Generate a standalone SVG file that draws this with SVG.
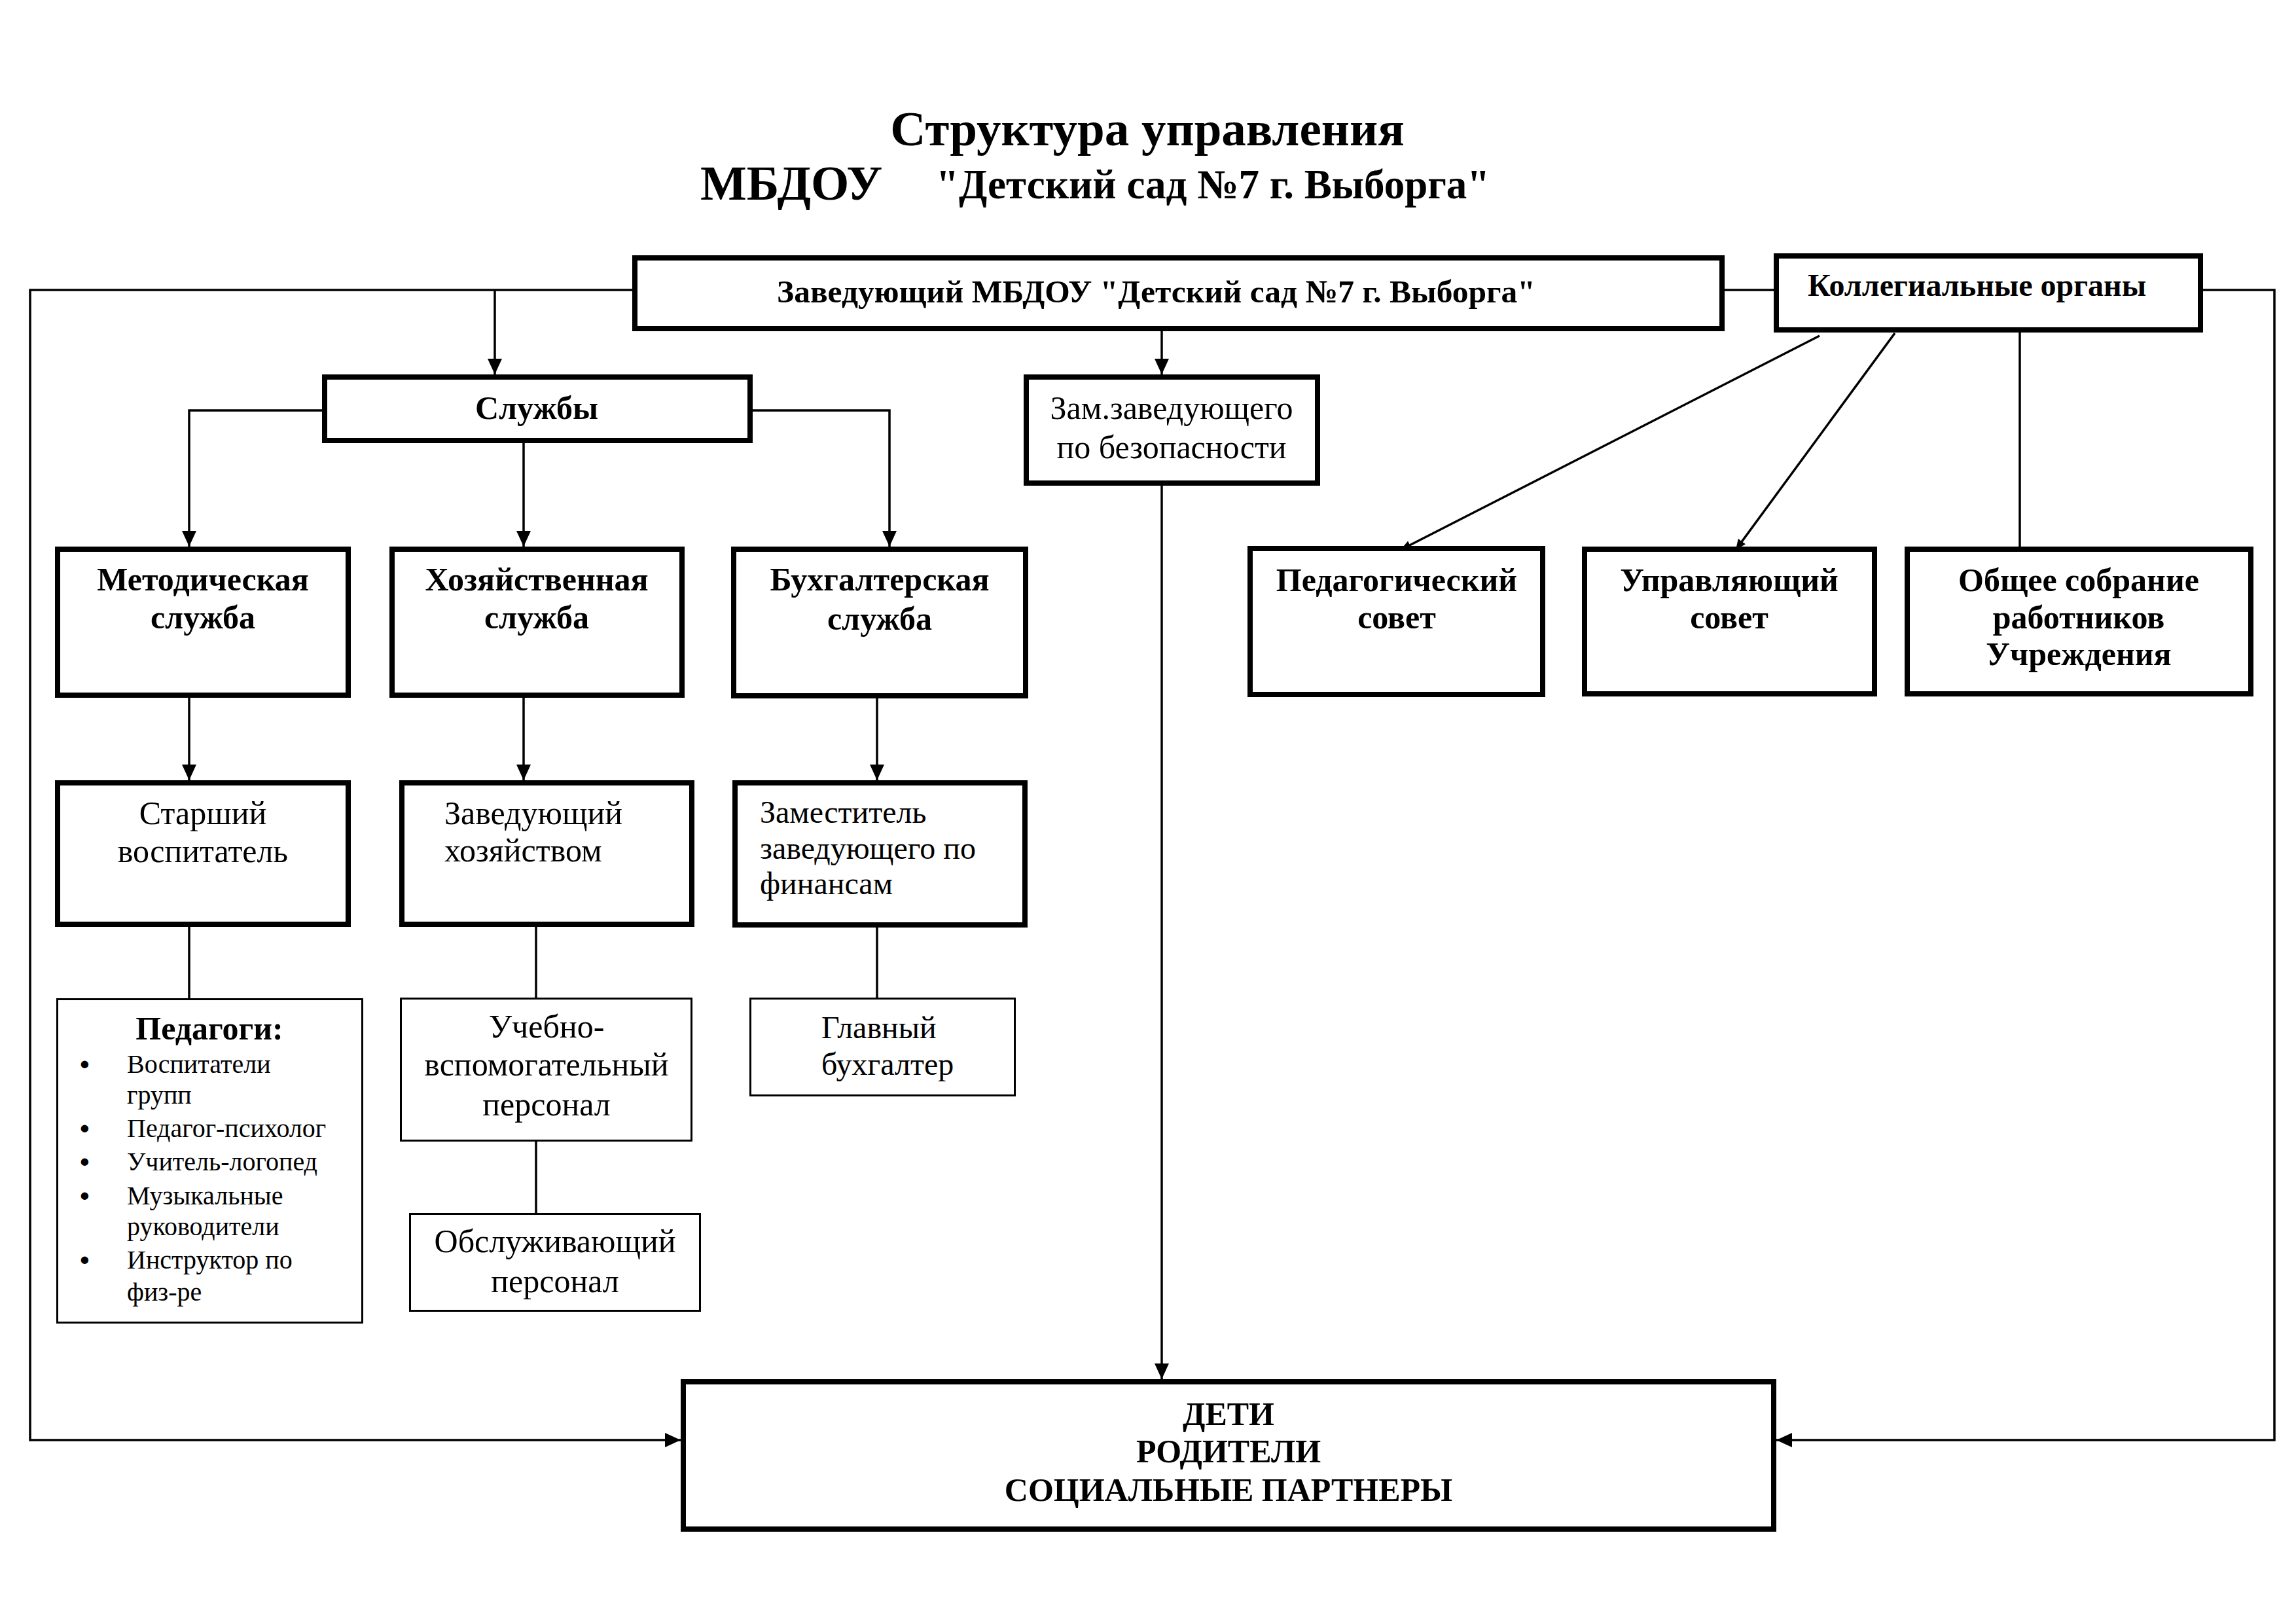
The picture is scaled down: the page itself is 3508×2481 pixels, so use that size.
<svg xmlns="http://www.w3.org/2000/svg" width="3508" height="2481" viewBox="0 0 3508 2481">
<style>
text{font-family:"Liberation Serif","Times New Roman",serif;fill:#000}
.b{font-weight:bold}
.c{text-anchor:middle}
.thick{fill:#fff;stroke:#000;stroke-width:8}
.thin{fill:#fff;stroke:#000;stroke-width:3}
.ln{fill:none;stroke:#000;stroke-width:3.5}
.f50{font-size:50px}
.f48{font-size:48px}
.f40{font-size:40px}
.bul{font-size:42px;font-weight:bold}
</style>
<defs>
<marker id="arr" viewBox="0 0 24 22" refX="24" refY="11" markerWidth="24" markerHeight="22" orient="auto" markerUnits="userSpaceOnUse"><path d="M0,0 L24,11 L0,22 z" fill="#000"/></marker>
<marker id="sarr" viewBox="0 0 16 14" refX="16" refY="7" markerWidth="16" markerHeight="14" orient="auto" markerUnits="userSpaceOnUse"><path d="M0,0 L16,7 L0,14 z" fill="#000"/></marker>
</defs>
<rect width="3508" height="2481" fill="#fff"/>
<g id="title">
<text class="b c" x="1753" y="222" font-size="75">Структура управления</text>
<text class="b" x="1070" y="305" font-size="75">МБДОУ</text>
<text class="b" x="1430" y="303" font-size="63">"Детский сад №7 г. Выборга"</text>
</g>
<g id="connectors">
<path class="ln" d="M966,443 H46 V2200 H1040" marker-end="url(#arr)"/>
<path class="ln" d="M756,443 V572" marker-end="url(#arr)"/>
<path class="ln" d="M1775,506 V572" marker-end="url(#arr)"/>
<path class="ln" d="M1775,742 V2107" marker-end="url(#arr)"/>
<path class="ln" d="M2635,443 H2710"/>
<path class="ln" d="M3352,443 H3475 V2200 H2714" marker-end="url(#arr)"/>
<path class="ln" d="M492,627 H289 V835" marker-end="url(#arr)"/>
<path class="ln" d="M800,677 V835" marker-end="url(#arr)"/>
<path class="ln" d="M1150,627 H1359 V835" marker-end="url(#arr)"/>
<path class="ln" d="M289,1066 V1192" marker-end="url(#arr)"/>
<path class="ln" d="M800,1066 V1192" marker-end="url(#arr)"/>
<path class="ln" d="M1340,1067 V1192" marker-end="url(#arr)"/>
<path class="ln" d="M289,1416 V1525"/>
<path class="ln" d="M819,1416 V1524"/>
<path class="ln" d="M819,1744 V1853"/>
<path class="ln" d="M1340,1417 V1524"/>
<path class="ln" d="M2780,513 L2140,840" marker-end="url(#sarr)"/>
<path class="ln" d="M2895,509 L2652,840" marker-end="url(#sarr)"/>
<path class="ln" d="M3086,508 V835"/>
</g>
<g id="zaveduyushchiy">
<rect class="thick" x="970" y="394" width="1661" height="108"/>
<text class="b" x="1187" y="462" font-size="49.5">Заведующий МБДОУ "Детский сад №7 г. Выборга"</text>
</g>
<g id="kollegialnye">
<rect class="thick" x="2714" y="391" width="648" height="113"/>
<text class="b f48" x="2762" y="452">Коллегиальные органы</text>
</g>
<g id="sluzhby">
<rect class="thick" x="496" y="576" width="650" height="97"/>
<text class="b c f50" x="820" y="640">Службы</text>
</g>
<g id="zam-bezopasnost">
<rect class="thick" x="1568" y="576" width="445" height="162"/>
<text class="c f50" x="1790" y="640">Зам.заведующего</text>
<text class="c f50" x="1790" y="700">по безопасности</text>
</g>
<g id="metodicheskaya">
<rect class="thick" x="88" y="839" width="444" height="223"/>
<text class="b c f50" x="310" y="902">Методическая</text>
<text class="b c f50" x="310" y="960">служба</text>
</g>
<g id="hozyaystvennaya">
<rect class="thick" x="599" y="839" width="443" height="223"/>
<text class="b c f50" x="820" y="902">Хозяйственная</text>
<text class="b c f50" x="820" y="960">служба</text>
</g>
<g id="buhgalterskaya">
<rect class="thick" x="1121" y="839" width="446" height="224"/>
<text class="b c f50" x="1344" y="902">Бухгалтерская</text>
<text class="b c f50" x="1344" y="962">служба</text>
</g>
<g id="pedsovet">
<rect class="thick" x="1910" y="838" width="447" height="223"/>
<text class="b c f50" x="2134" y="903">Педагогический</text>
<text class="b c f50" x="2134" y="960">совет</text>
</g>
<g id="upravlyayushchiy">
<rect class="thick" x="2421" y="839" width="443" height="221"/>
<text class="b c f50" x="2642" y="903">Управляющий</text>
<text class="b c f50" x="2642" y="960">совет</text>
</g>
<g id="obshchee-sobranie">
<rect class="thick" x="2914" y="839" width="525" height="221"/>
<text class="b c f50" x="3176" y="903">Общее собрание</text>
<text class="b c f50" x="3176" y="960">работников</text>
<text class="b c f50" x="3176" y="1016">Учреждения</text>
</g>
<g id="starshiy">
<rect class="thick" x="88" y="1196" width="444" height="216"/>
<text class="c f50" x="310" y="1259">Старший</text>
<text class="c f50" x="310" y="1317">воспитатель</text>
</g>
<g id="zavhoz">
<rect class="thick" x="614" y="1196" width="443" height="216"/>
<text class="f50" x="679" y="1259">Заведующий</text>
<text class="f50" x="679" y="1316">хозяйством</text>
</g>
<g id="zam-finansy">
<rect class="thick" x="1123" y="1196" width="443" height="217"/>
<text class="f48" x="1161" y="1257">Заместитель</text>
<text class="f48" x="1161" y="1312">заведующего по</text>
<text class="f48" x="1161" y="1366">финансам</text>
</g>
<g id="pedagogi">
<rect class="thin" x="87.5" y="1526.5" width="466" height="494"/>
<text class="b c f50" x="320" y="1588">Педагоги:</text>
<text class="bul" x="122" y="1640">•</text>
<text class="f40" x="194" y="1639">Воспитатели</text>
<text class="f40" x="194" y="1686">групп</text>
<text class="bul" x="122" y="1738">•</text>
<text class="f40" x="194" y="1737">Педагог-психолог</text>
<text class="bul" x="122" y="1789">•</text>
<text class="f40" x="194" y="1788">Учитель-логопед</text>
<text class="bul" x="122" y="1841">•</text>
<text class="f40" x="194" y="1840">Музыкальные</text>
<text class="f40" x="194" y="1887">руководители</text>
<text class="bul" x="122" y="1939">•</text>
<text class="f40" x="194" y="1938">Инструктор по</text>
<text class="f40" x="194" y="1987">физ-ре</text>
</g>
<g id="uchebno">
<rect class="thin" x="612.5" y="1525.5" width="444" height="217"/>
<text class="c f50" x="835" y="1585">Учебно-</text>
<text class="c f50" x="835" y="1643">вспомогательный</text>
<text class="c f50" x="835" y="1704">персонал</text>
</g>
<g id="obsluzhivayushchiy">
<rect class="thin" x="626.5" y="1854.5" width="443" height="148"/>
<text class="c f50" x="848" y="1913">Обслуживающий</text>
<text class="c f50" x="848" y="1974">персонал</text>
</g>
<g id="glavbuh">
<rect class="thin" x="1146.5" y="1525.5" width="404" height="148"/>
<text class="f48" x="1255" y="1586">Главный</text>
<text class="f48" x="1255" y="1642">бухгалтер</text>
</g>
<g id="deti">
<rect class="thick" x="1044" y="2111" width="1666" height="225"/>
<text class="b c f50" x="1877" y="2177">ДЕТИ</text>
<text class="b c f50" x="1877" y="2234">РОДИТЕЛИ</text>
<text class="b c f50" x="1877" y="2293">СОЦИАЛЬНЫЕ ПАРТНЕРЫ</text>
</g>
</svg>
